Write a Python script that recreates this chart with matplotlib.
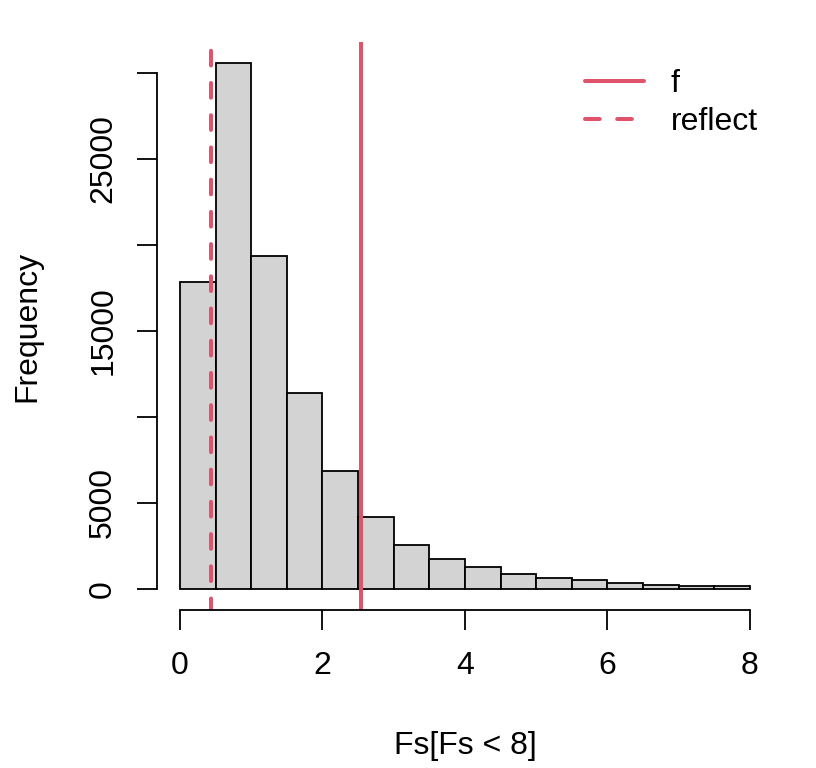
import matplotlib.pyplot as plt
from matplotlib.lines import Line2D
import numpy as np

# histogram of Fs[Fs < 8], bins of width 0.5
bin_edges = [0.0, 0.5, 1.0, 1.5, 2.0, 2.5, 3.0, 3.5, 4.0,
             4.5, 5.0, 5.5, 6.0, 6.5, 7.0, 7.5, 8.0]
counts = [17870, 30560, 19340, 11380, 6860, 4190, 2560, 1760,
          1300, 870, 660, 510, 370, 250, 190, 170]

f_value = 2.54
reflect_value = 0.435

x_ticks = [0, 2, 4, 6, 8]
y_ticks = [0, 5000, 10000, 15000, 20000, 25000, 30000]
y_tick_labels = ["0", "5000", "", "15000", "", "25000", ""]

line_color = "#DF536B"
px = 0.72  # points per pixel at dpi 100

plt.rcParams["font.family"] = ["Liberation Sans", "DejaVu Sans"]
plt.rcParams["font.size"] = 23
plt.rcParams["lines.scale_dashes"] = False

W, H = 816, 768
fig = plt.figure(figsize=(W / 100, H / 100), dpi=100)
left, right, top, bottom = 157.2, 772.8, 42.3, 610.0
ax = fig.add_axes([left / W, 1 - bottom / H, (right - left) / W, (bottom - top) / H])

widths = np.diff(bin_edges)
ax.bar(bin_edges[:-1], counts, width=widths, align="edge",
       color="#D3D3D3", edgecolor="black", linewidth=1.3)

# R-style 4% padding around the data range
xr = bin_edges[-1] - bin_edges[0]
ax.set_xlim(bin_edges[0] - 0.04 * xr, bin_edges[-1] + 0.04 * xr)
ymax = max(counts)
ax.set_ylim(-0.04 * ymax, 1.04 * ymax)

lw = 4 * px
dash = (10.6, 12.6)
ax.plot([f_value, f_value], [1, 0], transform=ax.get_xaxis_transform(),
        color=line_color, lw=lw, solid_capstyle="butt")
ax.plot([reflect_value, reflect_value], [1, 0], transform=ax.get_xaxis_transform(),
        color=line_color, lw=lw, linestyle=(16.9, dash), dash_capstyle="round")

handles = [
    Line2D([], [], color=line_color, lw=lw, solid_capstyle="round"),
    Line2D([], [], color=line_color, lw=lw, linestyle=(0, dash), dash_capstyle="round"),
]
ax.legend(handles, ["f", "reflect"], loc="upper right", frameon=False,
          bbox_to_anchor=((758 - left) / (right - left), (bottom - 69) / (bottom - top)),
          borderaxespad=0, borderpad=0, handlelength=1.85, handletextpad=0.85,
          labelspacing=0.25)

for side in ["top", "right"]:
    ax.spines[side].set_visible(False)
ax.spines["left"].set_bounds(0, 30000)
ax.spines["bottom"].set_bounds(0, 8)
ax.spines["left"].set_linewidth(1.3)
ax.spines["bottom"].set_linewidth(1.3)

ax.set_xticks(x_ticks)
ax.set_yticks(y_ticks)
ax.set_yticklabels(y_tick_labels, rotation=90, va="center")
ax.tick_params(direction="out", length=20 * px, width=1.3)
ax.tick_params(axis="x", pad=15)
ax.tick_params(axis="y", pad=13.7)

ax.set_xlabel("Fs[Fs < 8]", labelpad=36)
ax.set_ylabel("Frequency", labelpad=33)

fig.savefig("out.png", dpi=100)
